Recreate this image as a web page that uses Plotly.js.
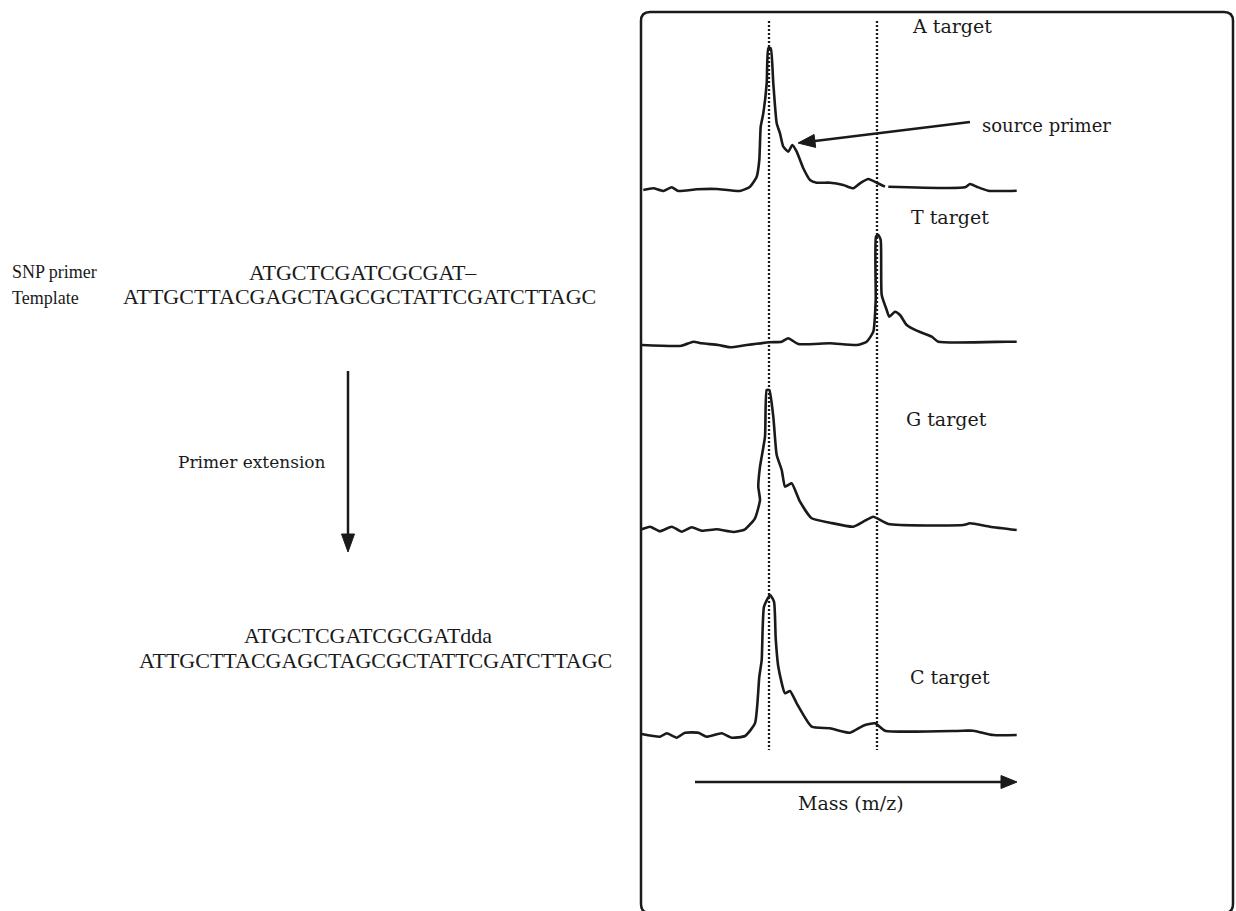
<!DOCTYPE html>
<html>
<head>
<meta charset="utf-8">
<script src="https://cdn.plot.ly/plotly-3.0.1.min.js"></script>
<style>html,body{margin:0;padding:0;background:#fff;}#chart{width:1236px;height:911px;}</style>
</head>
<body>
<div id="chart"></div>
<script>
// ---- data (mass in arbitrary units, intensity in arbitrary units) ----
const targetNames = ["A target", "T target", "G target", "C target"];

const massA = [2.3, 12.3, 22.3, 30.7, 37.3, 55.7, 75.7, 99, 109, 115.7, 118.3, 119.7, 122.3, 125.7, 127.3, 129.7, 132.3, 135.7, 139, 142.3, 147.3, 151.3, 155.7, 162.3, 169, 175.7, 189, 202.3, 212.3, 219, 227.3, 235.7, 244, 245.5, 247.3, 324, 329, 335.7, 347.3, 375.7];
const intensityA = [5, 6.7, 4, 7.7, 4, 5.7, 6, 4, 8.3, 18.3, 35, 68.3, 81.7, 111.7, 146.7, 146.7, 111.7, 71.7, 61.7, 48.3, 43.3, 50, 43.3, 26.7, 15, 12.3, 12.3, 10, 6.7, 11.7, 16, 12.3, 8.3, null, 8.3, 7.7, 11, 8.3, 4.3, 4.3];

const massT = [0.7, 40.7, 52.3, 60.7, 77.3, 89, 105.7, 129, 140.7, 147.3, 157.3, 189, 215.7, 225.7, 232.3, 234.7, 235, 237.3, 239.7, 240.7, 245.7, 248.3, 254, 259, 265.7, 275.7, 290.7, 297.3, 365.7, 375.7];
const intensityT = [5, 4.3, 8.3, 6.7, 5, 2.7, 5, 7.7, 8.3, 11.7, 6, 6.7, 5, 8.3, 18.3, 50, 113.3, 115, 110, 55, 40, 33.3, 38.3, 35, 25, 19.3, 13.3, 8.3, 8.3, 8.3];

const massG = [0.7, 9, 19, 30.7, 40.7, 50.7, 60.7, 75.7, 92.3, 104, 114, 119, 117.3, 119, 124, 125.7, 128.3, 132.3, 135.7, 140.7, 144, 147.3, 150.7, 159, 170.7, 189, 212.3, 222.3, 232.3, 247.3, 322.3, 329, 349, 375.7];
const intensityG = [5.7, 8.3, 3.7, 8.3, 3.3, 7.7, 4.3, 5.7, 3, 5.7, 16.7, 35, 48.3, 68.3, 98.3, 145, 145, 118.3, 80, 65, 48.3, 50, 51.7, 33.3, 16.7, 12.3, 8.3, 13.3, 18.3, 11, 10, 11.7, 8.3, 5];

const massC = [0.7, 19, 25.7, 35.7, 44, 57.3, 65.7, 80.7, 90.7, 104, 114, 118.3, 120.7, 123, 129, 133, 134.7, 137.3, 144, 149, 155.7, 170.7, 189, 209, 222.3, 234, 244, 322.3, 332.3, 352.3, 375.7];
const intensityC = [6, 3.3, 6.7, 2.3, 7.3, 7.3, 3.3, 6.7, 2.3, 4, 16.7, 63.3, 80, 133.3, 145, 138.3, 101.7, 73.3, 46.7, 49, 36.7, 13.3, 11.7, 7.3, 14.3, 16.7, 9.3, 9.3, 9.3, 5, 5];

// reference masses (dotted lines): source primer and extended primer
const referenceMasses = [128, 236];
// source primer shoulder in A spectrum
const sourcePrimerPoint = {mass: 157, intensity: 52};

const snpPrimer = "ATGCTCGATCGCGAT\u2013";
const templateSeq = "ATTGCTTACGAGCTAGCGCTATTCGATCTTAGC";
const extendedPrimer = "ATGCTCGATCGCGATdda";

// ---- layout helpers (pixel -> paper) ----
const W = 1236, H = 911;
const px = x => x / W;
const py = y => 1 - y / H;
const INK = "#1a1a1a";

const masses = [massA, massT, massG, massC];
const intensities = [intensityA, intensityT, intensityG, intensityC];
const axisNames = ["y", "y2", "y3", "y4"];
const panelBottoms = [195, 350, 535, 740];
const panelHeight = 150;

const traces = masses.map((m, i) => ({
  type: "scatter", mode: "lines", x: m, y: intensities[i],
  xaxis: "x", yaxis: axisNames[i], name: targetNames[i],
  line: {color: INK, width: 2.6, shape: "spline", smoothing: 0.5},
  connectgaps: false, hoverinfo: "skip", cliponaxis: false
}));

const layout = {
  width: W, height: H,
  margin: {l: 0, r: 0, t: 0, b: 0},
  paper_bgcolor: "#fff", plot_bgcolor: "rgba(0,0,0,0)",
  showlegend: false,
  xaxis: {domain: [px(641), px(1017)], range: [0, 376], visible: false, fixedrange: true},
  shapes: [], annotations: []
};
panelBottoms.forEach((b, i) => {
  const key = i === 0 ? "yaxis" : "yaxis" + (i + 1);
  layout[key] = {domain: [py(b), py(b - panelHeight)], range: [0, panelHeight], visible: false, anchor: "x", fixedrange: true};
});

// rounded frame
(function () {
  const L = 641, R = 1233, T = 12, B = 913, r = 9;
  const P = (x, y) => px(x) + "," + py(y);
  layout.shapes.push({
    type: "path", xref: "paper", yref: "paper",
    path: "M" + P(L, T + r) + " Q" + P(L, T) + " " + P(L + r, T) +
          " L" + P(R - r, T) + " Q" + P(R, T) + " " + P(R, T + r) +
          " L" + P(R, B - r) + " Q" + P(R, B) + " " + P(R - r, B) +
          " L" + P(L + r, B) + " Q" + P(L, B) + " " + P(L, B - r) + " Z",
    line: {color: INK, width: 2.5}, fillcolor: "rgba(0,0,0,0)"
  });
})();

// dotted reference lines
referenceMasses.forEach(m => layout.shapes.push({
  type: "line", xref: "x", yref: "paper", x0: m, x1: m, y0: py(21), y1: py(750),
  line: {color: INK, width: 2.3, dash: "2px,2px"}
}));

// arrow helper in pixel coordinates (line + filled head)
function arrow(x0, y0, x1, y1, headLen, headHalf, width) {
  const dx = x1 - x0, dy = y1 - y0, len = Math.hypot(dx, dy);
  const ux = dx / len, uy = dy / len;
  const bx = x1 - ux * headLen, by = y1 - uy * headLen;
  const nx = -uy, ny = ux;
  layout.shapes.push({type: "line", xref: "paper", yref: "paper",
    x0: px(x0), y0: py(y0), x1: px(bx + ux * 2), y1: py(by + uy * 2),
    line: {color: INK, width: width}});
  layout.shapes.push({type: "path", xref: "paper", yref: "paper",
    path: "M" + px(x1) + "," + py(y1) + " L" + px(bx + nx * headHalf) + "," + py(by + ny * headHalf) +
          " L" + px(bx - nx * headHalf) + "," + py(by - ny * headHalf) + " Z",
    fillcolor: INK, line: {color: INK, width: 1}});
}
// primer extension arrow
arrow(348, 371, 348, 552, 18, 6.5, 2.5);
// mass axis arrow
arrow(695, 782, 1017, 782, 16, 6.5, 2.5);
// source primer arrow (tip at the shoulder of the A spectrum)
(function () {
  const tipX = 641 + sourcePrimerPoint.mass * (1017 - 641) / 376;
  const tipY = panelBottoms[0] - sourcePrimerPoint.intensity;
  arrow(970, 122, tipX, tipY, 17, 6.5, 2.5);
})();

function label(text, x, y, opts) {
  opts = opts || {};
  layout.annotations.push({
    text: text, xref: "paper", yref: "paper", x: px(x), y: py(y),
    xanchor: opts.anchor || "center", yanchor: "middle", showarrow: false,
    font: {family: opts.family || "DejaVu Serif, serif", size: opts.size || 18, color: INK}
  });
}
const seqFont = "Liberation Serif, Times New Roman, serif";
const labelY = [26, 217, 419, 677];
const labelX = [952, 950, 946, 950];
targetNames.forEach((t, i) => label(t, labelX[i], labelY[i], {size: 19}));
label("source primer", 980, 125, {anchor: "left", size: 18});
label("Mass (m/z)", 851, 803, {size: 19});
label("Primer extension", 252, 462, {size: 17});
label("SNP primer", 10, 272, {anchor: "left", family: seqFont, size: 18});
label("Template", 10, 298, {anchor: "left", family: seqFont, size: 18});
label(snpPrimer, 247, 272, {anchor: "left", family: seqFont, size: 22});
label(templateSeq, 121, 296, {anchor: "left", family: seqFont, size: 22});
label(extendedPrimer, 242, 635, {anchor: "left", family: seqFont, size: 22});
label(templateSeq, 137, 660, {anchor: "left", family: seqFont, size: 22});

Plotly.newPlot("chart", traces, layout, {staticPlot: true, displayModeBar: false});
</script>
</body>
</html>
